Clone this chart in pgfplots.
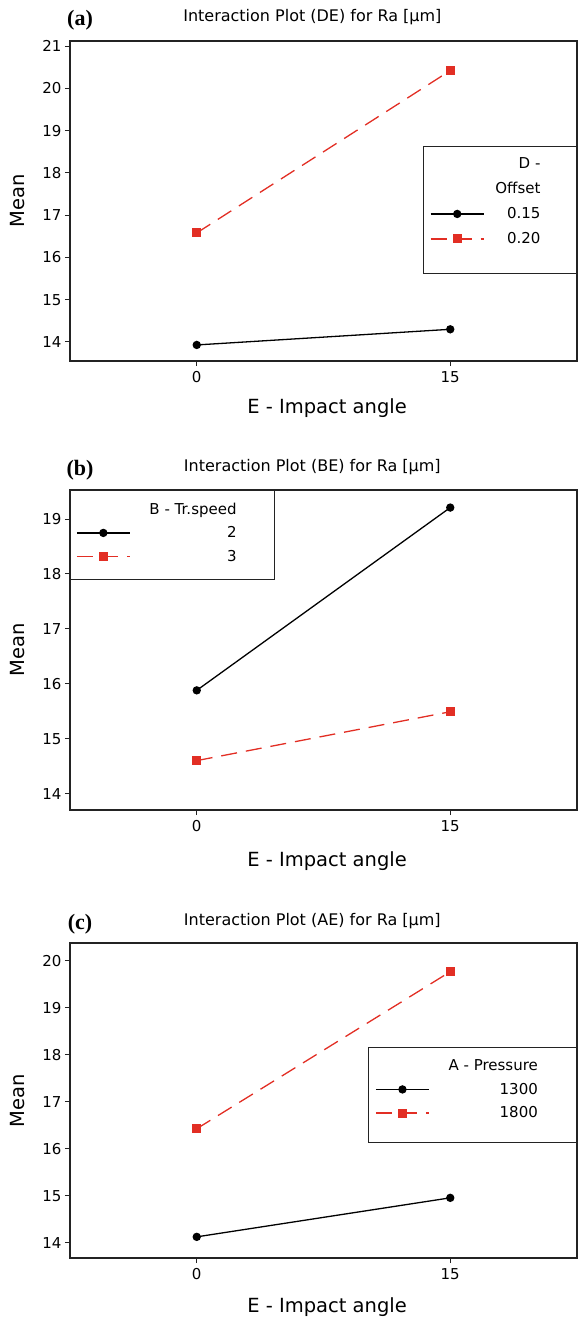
\documentclass[border=0pt]{standalone}
\usepackage{pgfplots}
\pgfplotsset{compat=1.18}
\usepackage{fontspec}
\setmainfont{DejaVu Sans}
\newfontfamily\panelfont{Liberation Serif}

\definecolor{minired}{RGB}{226,46,36}
\definecolor{framegray}{RGB}{35,35,35}

% legend text with a fixed strut and right padding #2
\newcommand{\ent}[2]{\rule[-3pt]{0pt}{14pt}#1\hspace*{#2}}

\tikzset{lgframe/.style={framegray, line width=0.9pt}}

\pgfplotsset{
  intplot/.style={
    scale only axis, width=507pt,
    xmin=-7.5, xmax=22.5, xtick={0,15},
    /pgf/number format/assume math mode=true,
    axis line style={framegray, line width=1.3pt},
    tick style={framegray, line width=1pt},
    tick align=outside, major tick length=5pt, tick pos=left,
    tick label style={font=\fontsize{15}{18}\selectfont},
    xticklabel style={yshift=-2pt},
    xlabel={E - Impact angle}, ylabel={Mean},
    every axis y label/.style={at={(axis description cs:-0.1026,0.5)}, anchor=center,
      rotate=90, font=\fontsize{19.5}{22}\selectfont},
    legend cell align=right,
    legend style={draw=none, fill=none, font=\fontsize{15}{18}\selectfont,
      nodes={inner sep=0pt}, anchor=north west},
    legend image code/.code={\draw[mark repeat=2,mark phase=2,#1] plot coordinates {(0pt,0pt) (26.5pt,0pt) (53pt,0pt)};},
  },
  lo/.style={black, line width=1.3pt, mark=*, mark size=3.5pt},
  hi/.style={minired, line width=1.3pt, dash pattern=on 16pt off 9pt, mark=square*, mark size=3.8pt, mark options={solid}},
}

\begin{document}
\begin{tikzpicture}
\useasboundingbox (0pt,0pt) rectangle (578pt,-1322pt);

% (a) DE
\begin{axis}[intplot, height=320pt, at={(70pt,-361pt)}, anchor=south west,
  ymin=13.55, ymax=21.12, ytick={14,15,...,21},
  title={Interaction Plot (DE) for Ra [µm]},
  every axis title/.style={at={(axis description cs:0.478,1.075)}, anchor=center, font=\fontsize{16}{19}\selectfont},
  every axis x label/.style={at={(axis description cs:0.507,-0.147)}, anchor=center, font=\fontsize{19.5}{22}\selectfont},
  legend style={at={(0.698,0.669)}, inner xsep=6pt, inner ysep=10.5pt, row sep=12.3pt,
    /tikz/every odd column/.append style={column sep=11pt}},
]
\addlegendimage{empty legend}\addlegendentry{\ent{D -}{30pt}}
\addlegendimage{empty legend}\addlegendentry{\ent{Offset}{30pt}}
\addplot[lo] coordinates {(0,13.93) (15,14.30)};
\addlegendentry{\ent{0.15}{30pt}}
\addplot[hi] coordinates {(0,16.58) (15,20.42)};
\addlegendentry{\ent{0.20}{30pt}}
\draw[lgframe] (rel axis cs:0.698,0.669) rectangle (rel axis cs:1,0.275);
\end{axis}
\node[font=\panelfont\bfseries\fontsize{22}{26}\selectfont] at (80pt,-20pt) {(a)};

% (b) BE
\begin{axis}[intplot, height=320pt, at={(70pt,-810pt)}, anchor=south west,
  ymin=13.70, ymax=19.53, ytick={14,15,...,19},
  title={Interaction Plot (BE) for Ra [µm]},
  every axis title/.style={at={(axis description cs:0.478,1.072)}, anchor=center, font=\fontsize{16}{19}\selectfont},
  every axis x label/.style={at={(axis description cs:0.507,-0.159)}, anchor=center, font=\fontsize{19.5}{22}\selectfont},
  legend style={at={(0,1)}, inner xsep=6pt, inner ysep=12.5pt, row sep=11pt,
    /tikz/every odd column/.append style={column sep=19pt}},
]
\addlegendimage{empty legend}\addlegendentry{\ent{B - Tr.speed}{31pt}}
\addplot[lo] coordinates {(0,15.88) (15,19.21)};
\addlegendentry{\ent{2}{31pt}}
\addplot[hi] coordinates {(0,14.60) (15,15.49)};
\addlegendentry{\ent{3}{31pt}}
\draw[lgframe] (rel axis cs:0,1) rectangle (rel axis cs:0.404,0.719);
\end{axis}
\node[font=\panelfont\bfseries\fontsize{22}{26}\selectfont] at (80pt,-470pt) {(b)};

% (c) AE
\begin{axis}[intplot, height=315pt, at={(70pt,-1258pt)}, anchor=south west,
  ymin=13.68, ymax=20.38, ytick={14,15,...,20},
  title={Interaction Plot (AE) for Ra [µm]},
  every axis title/.style={at={(axis description cs:0.478,1.070)}, anchor=center, font=\fontsize{16}{19}\selectfont},
  every axis x label/.style={at={(axis description cs:0.507,-0.156)}, anchor=center, font=\fontsize{19.5}{22}\selectfont},
  legend style={at={(0.588,0.667)}, inner xsep=7pt, inner ysep=11.5pt, row sep=11pt,
    /tikz/every odd column/.append style={column sep=19pt}},
]
\addlegendimage{empty legend}\addlegendentry{\ent{A - Pressure}{34pt}}
\addplot[lo] coordinates {(0,14.13) (15,14.96)};
\addlegendentry{\ent{1300}{34pt}}
\addplot[hi] coordinates {(0,16.43) (15,19.77)};
\addlegendentry{\ent{1800}{34pt}}
\draw[lgframe] (rel axis cs:0.588,0.667) rectangle (rel axis cs:1,0.368);
\end{axis}
\node[font=\panelfont\bfseries\fontsize{22}{26}\selectfont] at (80pt,-924pt) {(c)};
\end{tikzpicture}
\end{document}
